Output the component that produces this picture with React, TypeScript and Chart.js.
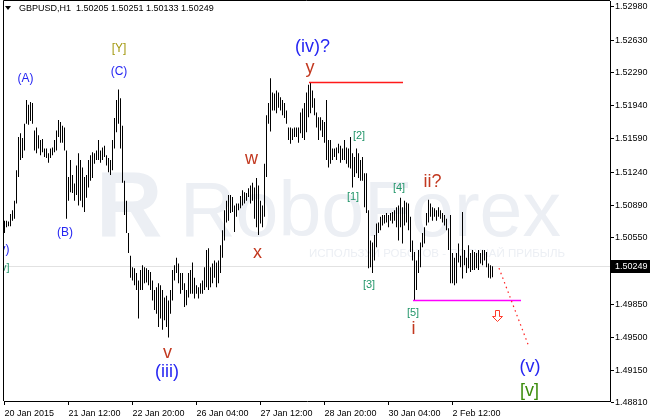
import React, { useEffect, useRef } from "react";
import { Chart, registerables } from "chart.js";

Chart.register(...registerables);

// ---------- data ----------
const symbolTitle = "GBPUSD,H1";
const lastBarOHLC = [1.50205, 1.50251, 1.50133, 1.50249];

const barHighs = [
  1.5073, 1.5073, 1.5072, 1.508, 1.5084, 1.5094, 1.5126, 1.5161, 1.5165, 1.516,
  1.5175, 1.52, 1.5195, 1.5198, 1.5197, 1.5168, 1.5171, 1.5163, 1.5158, 1.5159,
  1.5149, 1.5149, 1.5144, 1.5149, 1.515, 1.5158, 1.5168, 1.5179, 1.5177, 1.5173,
  1.5171, 1.5147, 1.5119, 1.5137, 1.5121, 1.5112, 1.5131, 1.5144, 1.5137, 1.5129,
  1.5119, 1.5121, 1.5137, 1.5142, 1.5145, 1.5144, 1.5147, 1.5158, 1.5147, 1.515,
  1.5152, 1.5142, 1.5139, 1.5137, 1.5158, 1.5181, 1.52, 1.5211, 1.5202, 1.5173,
  1.5115, 1.5094, 1.506, 1.5036, 1.5024, 1.5023, 1.5018, 1.501, 1.5021, 1.5026,
  1.5024, 1.5023, 1.5021, 1.5019, 1.501, 1.5, 1.5003, 1.5007, 1.5005, 1.5,
  1.4992, 1.4994, 1.4989, 1.5, 1.5021, 1.5026, 1.5034, 1.5028, 1.5018, 1.5018,
  1.5007, 1.5, 1.5018, 1.5021, 1.5029, 1.5013, 1.5005, 1.5003, 1.5007, 1.501,
  1.5024, 1.5042, 1.5044, 1.5024, 1.5028, 1.5031, 1.5029, 1.5031, 1.5047, 1.5063,
  1.5084, 1.5094, 1.51, 1.51, 1.5098, 1.5089, 1.5091, 1.5091, 1.5099, 1.5105,
  1.5103, 1.5102, 1.5107, 1.511, 1.5113, 1.5108, 1.5118, 1.511, 1.5094, 1.5089,
  1.5133, 1.5184, 1.5197, 1.5223, 1.5208, 1.5207, 1.521, 1.5208, 1.5203, 1.52,
  1.5197, 1.5189, 1.5171, 1.5171, 1.517, 1.5171, 1.5171, 1.5171, 1.5187, 1.5191,
  1.5197, 1.5208, 1.5216, 1.5219, 1.521, 1.5202, 1.5187, 1.5182, 1.5182, 1.5179,
  1.5177, 1.52, 1.5158, 1.5158, 1.5149, 1.5149, 1.515, 1.5154, 1.5152, 1.5149,
  1.5158, 1.515, 1.5149, 1.5161, 1.5144, 1.514, 1.5149, 1.5144, 1.5137, 1.514,
  1.5123, 1.5123, 1.5084, 1.5052, 1.505, 1.5058, 1.507, 1.5071, 1.5077, 1.5079,
  1.5079, 1.5081, 1.5079, 1.5081, 1.5082, 1.5084, 1.5087, 1.5089, 1.5097, 1.5087,
  1.5094, 1.5092, 1.5091, 1.5077, 1.5052, 1.504, 1.5031, 1.5042, 1.505, 1.506,
  1.5066, 1.5081, 1.5095, 1.5091, 1.5087, 1.5086, 1.5084, 1.5087, 1.5084, 1.5081,
  1.5079, 1.5075, 1.5065, 1.5079, 1.5039, 1.5034, 1.5039, 1.5049, 1.5036, 1.5082,
  1.5042, 1.5034, 1.5047, 1.5039, 1.5042, 1.504, 1.5039, 1.5042, 1.5039, 1.5042,
  1.5042, 1.504, 1.5028, 1.5026, 1.50251,
];

const barLows = [
  1.506, 1.5066, 1.5067, 1.5067, 1.5073, 1.5075, 1.5091, 1.5119, 1.5137, 1.5139,
  1.5147, 1.5175, 1.5174, 1.5178, 1.5175, 1.5147, 1.5144, 1.5149, 1.5142, 1.5145,
  1.514, 1.5139, 1.5134, 1.5139, 1.5142, 1.5145, 1.5147, 1.5161, 1.5155, 1.5155,
  1.5147, 1.5075, 1.5094, 1.5103, 1.5102, 1.5094, 1.51, 1.5089, 1.5094, 1.5087,
  1.5082, 1.5097, 1.5108, 1.5115, 1.5118, 1.5133, 1.5137, 1.5137, 1.5134, 1.5137,
  1.514, 1.5131, 1.5124, 1.5121, 1.5126, 1.5149, 1.5166, 1.5175, 1.5149, 1.5113,
  1.5079, 1.506, 1.5039, 1.5013, 1.501, 1.5005, 1.5, 1.497, 1.5, 1.5,
  1.5007, 1.5008, 1.5005, 1.5, 1.4989, 1.4979, 1.4975, 1.4961, 1.497, 1.4958,
  1.4968, 1.4961, 1.495, 1.4975, 1.4989, 1.501, 1.5018, 1.5007, 1.4996, 1.5,
  1.4982, 1.4984, 1.4992, 1.4996, 1.4996, 1.4991, 1.4996, 1.4991, 1.4996, 1.4996,
  1.5, 1.5003, 1.5, 1.5003, 1.5007, 1.5013, 1.5003, 1.5007, 1.5018, 1.5034,
  1.5052, 1.5071, 1.5073, 1.5081, 1.5082, 1.5061, 1.5077, 1.5084, 1.5086, 1.5089,
  1.5091, 1.5094, 1.5098, 1.5091, 1.5094, 1.5075, 1.5066, 1.5058, 1.507, 1.5066,
  1.5077, 1.5119, 1.5175, 1.5167, 1.5189, 1.5189, 1.5186, 1.5192, 1.5189, 1.5184,
  1.5181, 1.5175, 1.5158, 1.5154, 1.5158, 1.5161, 1.5161, 1.5155, 1.5165, 1.516,
  1.5158, 1.5166, 1.5182, 1.5186, 1.5192, 1.5184, 1.5171, 1.5158, 1.5168, 1.5161,
  1.5155, 1.5137, 1.5129, 1.5133, 1.5137, 1.514, 1.5137, 1.5144, 1.5134, 1.5137,
  1.5137, 1.5133, 1.5129, 1.5128, 1.5108, 1.5119, 1.5123, 1.5118, 1.5115, 1.5115,
  1.5087, 1.5081, 1.5023, 1.5024, 1.5018, 1.5031, 1.5045, 1.506, 1.5063, 1.5068,
  1.507, 1.5071, 1.5066, 1.5073, 1.507, 1.5073, 1.5066, 1.5052, 1.5066, 1.5049,
  1.5068, 1.5071, 1.5063, 1.504, 1.5031, 1.4989, 1.5, 1.5018, 1.5024, 1.5045,
  1.5049, 1.5068, 1.5071, 1.5077, 1.5073, 1.5077, 1.5073, 1.5077, 1.5075, 1.5071,
  1.5068, 1.5063, 1.5042, 1.5007, 1.5007, 1.5005, 1.5007, 1.5029, 1.5024, 1.5012,
  1.5026, 1.5018, 1.5023, 1.5019, 1.5021, 1.5021, 1.5023, 1.5021, 1.5028, 1.5026,
  1.5031, 1.5024, 1.5013, 1.5012, 1.50133,
];

const xTickIndex = [0, 32, 64, 96, 128, 160, 192, 224];
const xTickLabels = [
  "20 Jan 2015", "21 Jan 12:00", "22 Jan 20:00", "26 Jan 04:00",
  "27 Jan 12:00", "28 Jan 20:00", "30 Jan 04:00", "2 Feb 12:00",
];
const yTickValues = [
  1.5298, 1.5263, 1.5229, 1.5194, 1.5159, 1.5124, 1.5089,
  1.5055, 1.502, 1.4985, 1.495, 1.4915, 1.4881,
];
const yRange = [1.48831, 1.53043];
const xRange = [-0.25, 302.75];

// annotation objects (bar index, price)
const resistanceLine = [152.25, 199.25, 1.5219];
const supportLine = [204.25, 258.25, 1.4989];
const forecastFrom = [247.25, 1.5023];
const forecastTo = [262.25, 1.494];
const sellArrow = [246.25, 1.4973];

const waveText = ["(A)", "(B)", "(C)", "[Y]", "(iv)?", "y", "w", "x", "v", "(iii)", "ii?", "i", "(v)", "[v]", "[1]", "[2]", "[3]", "[4]", "[5]"];
const waveIndex = [10.5, 30.25, 57.25, 57.25, 154, 152.75, 123.5, 126.5, 81.5, 81.25, 214, 204.5, 262.75, 262.5, 174.25, 177.25, 182.25, 197.25, 204.25];
const wavePrice = [1.5222, 1.506, 1.523, 1.5254, 1.5256, 1.5234, 1.5138, 1.5039, 1.4934, 1.4914, 1.5114, 1.4959, 1.4919, 1.4894, 1.5098, 1.5162, 1.5005, 1.5107, 1.4976];
const waveKind = ["blueS", "blueS", "blueS", "olive", "blueL", "red", "red", "red", "red", "blueL", "red", "red", "blueL", "green", "teal", "teal", "teal", "teal", "teal"];
// labels cut off at the left edge
const edgeText = ["(v)", "[v]"];
const edgeIndex = [2.5, 2.5];
const edgePrice = [1.5042, 1.5023];
const edgeKind = ["blueS", "teal"];

// ---------- styles ----------
const labelStyle: Record<string, { color: string; size: number }> = {
  blueS: { color: "#2626f2", size: 12 },
  blueL: { color: "#2626f2", size: 18 },
  red: { color: "#c2381f", size: 18 },
  teal: { color: "#23966a", size: 11 },
  olive: { color: "#a49a12", size: 12 },
  green: { color: "#3b8c0c", size: 18 },
};

function narrowAvailable(): boolean {
  const c = document.createElement("canvas").getContext("2d");
  if (!c) return false;
  c.font = "20px 'Liberation Sans Narrow', monospace";
  const a = c.measureText("1.52980 Jan GBPUSD").width;
  c.font = "20px monospace";
  const b = c.measureText("1.52980 Jan GBPUSD").width;
  return Math.abs(a - b) > 0.5;
}

export default function App() {
  const ref = useRef<HTMLCanvasElement | null>(null);

  useEffect(() => {
    document.body.style.margin = "0";
    const canvas = ref.current;
    if (!canvas) return;
    const narrow = narrowAvailable();
    const axisFamily = narrow ? "'Liberation Sans Narrow'" : "'Liberation Sans'";
    const axisSize = narrow ? 11 : 9;
    const axisFont = `${axisSize}px ${axisFamily}`;
    const lastClose = lastBarOHLC[3];

    const overlay = {
      id: "overlay",
      beforeDatasetsDraw(chart: any) {
        const { ctx, chartArea: a, scales } = chart;
        const y = scales.y;
        ctx.save();
        ctx.beginPath();
        ctx.rect(a.left, a.top, a.right - a.left, a.bottom - a.top);
        ctx.clip();
        // watermark
        ctx.fillStyle = "#eceff4";
        ctx.textBaseline = "alphabetic";
        ctx.textAlign = "left";
        ctx.font = "bold 92px 'Liberation Sans'";
        ctx.fillText("R", 96, 236);
        ctx.font = "77px 'Liberation Sans'";
        ctx.fillText("RoboForex", 180, 236);
        ctx.font = "11.5px 'Liberation Sans'";
        ctx.textAlign = "right";
        ctx.fillText("ИСПОЛЬЗУЙ РОБОТОВ - ПОЛУЧАЙ ПРИБЫЛЬ", 565, 257);
        // current price line
        const yp = Math.round(y.getPixelForValue(lastClose)) + 0.5;
        ctx.strokeStyle = "#e2e2e2";
        ctx.lineWidth = 1;
        ctx.beginPath();
        ctx.moveTo(a.left, yp);
        ctx.lineTo(a.right, yp);
        ctx.stroke();
        ctx.restore();
      },
      afterDatasetsDraw(chart: any) {
        const { ctx, chartArea: a, scales } = chart;
        const x = scales.x;
        const y = scales.y;
        ctx.save();
        ctx.beginPath();
        ctx.rect(a.left, a.top, a.right - a.left, a.bottom - a.top);
        ctx.clip();
        // resistance line
        let yy = Math.round(y.getPixelForValue(resistanceLine[2])) + 0.5;
        ctx.strokeStyle = "#ff1a1a";
        ctx.lineWidth = 1.3;
        ctx.beginPath();
        ctx.moveTo(x.getPixelForValue(resistanceLine[0]), yy);
        ctx.lineTo(x.getPixelForValue(resistanceLine[1]), yy);
        ctx.stroke();
        // support line
        yy = Math.round(y.getPixelForValue(supportLine[2])) + 0.5;
        ctx.strokeStyle = "#ff00ff";
        ctx.beginPath();
        ctx.moveTo(x.getPixelForValue(supportLine[0]), yy);
        ctx.lineTo(x.getPixelForValue(supportLine[1]), yy);
        ctx.stroke();
        // forecast dotted line
        ctx.strokeStyle = "#ff2020";
        ctx.lineWidth = 1.2;
        ctx.setLineDash([1.5, 3.5]);
        ctx.beginPath();
        ctx.moveTo(x.getPixelForValue(forecastFrom[0]), y.getPixelForValue(forecastFrom[1]));
        ctx.lineTo(x.getPixelForValue(forecastTo[0]), y.getPixelForValue(forecastTo[1]));
        ctx.stroke();
        ctx.setLineDash([]);
        // hollow down arrow
        const ax = Math.round(x.getPixelForValue(sellArrow[0])) + 0.5;
        const ay = Math.round(y.getPixelForValue(sellArrow[1])) + 0.5;
        ctx.strokeStyle = "#ff3a2a";
        ctx.fillStyle = "#ffffff";
        ctx.lineWidth = 1;
        ctx.beginPath();
        ctx.moveTo(ax - 2, ay - 6);
        ctx.lineTo(ax + 2, ay - 6);
        ctx.lineTo(ax + 2, ay);
        ctx.lineTo(ax + 5, ay);
        ctx.lineTo(ax, ay + 5);
        ctx.lineTo(ax - 5, ay);
        ctx.lineTo(ax - 2, ay);
        ctx.closePath();
        ctx.fill();
        ctx.stroke();
        // wave labels
        ctx.textBaseline = "middle";
        ctx.textAlign = "center";
        waveText.forEach((t, i) => {
          const st = labelStyle[waveKind[i]];
          ctx.fillStyle = st.color;
          ctx.font = `${st.size}px 'Liberation Sans'`;
          ctx.fillText(t, x.getPixelForValue(waveIndex[i]), y.getPixelForValue(wavePrice[i]));
        });
        ctx.textAlign = "right";
        edgeText.forEach((t, i) => {
          const st = labelStyle[edgeKind[i]];
          ctx.fillStyle = st.color;
          ctx.font = `${st.size}px 'Liberation Sans'`;
          ctx.fillText(t, x.getPixelForValue(edgeIndex[i]), y.getPixelForValue(edgePrice[i]));
        });
        ctx.restore();
      },
      afterDraw(chart: any) {
        const { ctx, chartArea: a, scales, width } = chart;
        const y = scales.y;
        ctx.save();
        // frame (left & top)
        ctx.strokeStyle = "#000";
        ctx.lineWidth = 1;
        ctx.beginPath();
        ctx.moveTo(a.left - 0.5, a.bottom);
        ctx.lineTo(a.left - 0.5, a.top - 0.5);
        ctx.lineTo(a.right, a.top - 0.5);
        ctx.stroke();
        // header
        ctx.fillStyle = "#000";
        ctx.beginPath();
        ctx.moveTo(5, 6);
        ctx.lineTo(11, 6);
        ctx.lineTo(8, 10);
        ctx.closePath();
        ctx.fill();
        ctx.font = axisFont;
        ctx.textBaseline = "middle";
        ctx.textAlign = "left";
        ctx.fillText(
          `${symbolTitle}  ${lastBarOHLC.map((v) => v.toFixed(5)).join(" ")}`,
          19,
          9
        );
        // current price box
        const yp = Math.round(y.getPixelForValue(lastClose));
        ctx.fillStyle = "#000";
        ctx.fillRect(a.right + 1, yp - 6, width - a.right - 1, 13);
        ctx.fillStyle = "#fff";
        ctx.fillText(lastClose.toFixed(5), a.right + 5, yp + 0.5);
        ctx.restore();
      },
    };

    const chart = new Chart(canvas, {
      type: "bar",
      data: {
        datasets: [
          {
            data: barHighs.map((h, i) => ({ x: i, y: [barLows[i], h] })) as any,
            backgroundColor: "#000",
            borderWidth: 0,
            barThickness: 1,
            inflateAmount: 0,
            grouped: false,
          } as any,
        ],
      },
      options: {
        animation: false,
        responsive: false,
        events: [],
        layout: { padding: { left: 4, top: 1, right: 0, bottom: 0 } },
        plugins: {
          legend: { display: false },
          tooltip: { enabled: false },
          title: { display: false },
        },
        scales: {
          x: {
            type: "linear",
            min: xRange[0],
            max: xRange[1],
            offset: false,
            bounds: "data",
            grid: {
              display: true,
              drawOnChartArea: false,
              drawTicks: true,
              tickLength: 4,
              tickColor: "#000",
              offset: false,
            },
            border: { display: true, color: "#000", width: 1 },
            afterBuildTicks: (s: any) => {
              s.ticks = xTickIndex.map((v) => ({ value: v }));
            },
            afterFit: (s: any) => {
              s.height = 19;
              s.paddingLeft = 0;
              s.paddingRight = 0;
            },
            ticks: {
              autoSkip: false,
              maxRotation: 0,
              minRotation: 0,
              align: "start",
              padding: 3,
              color: "#000",
              font: { family: axisFamily, size: axisSize },
              callback: (v: any) => {
                const k = xTickIndex.indexOf(Number(v));
                return k >= 0 ? xTickLabels[k] : "";
              },
            },
          } as any,
          y: {
            type: "linear",
            position: "right",
            min: yRange[0],
            max: yRange[1],
            bounds: "data",
            grid: {
              display: true,
              drawOnChartArea: false,
              drawTicks: true,
              tickLength: 4,
              tickColor: "#000",
            },
            border: { display: true, color: "#000", width: 1 },
            afterBuildTicks: (s: any) => {
              s.ticks = yTickValues.map((v) => ({ value: v }));
            },
            afterFit: (s: any) => {
              s.width = 40;
              s.paddingTop = 0;
              s.paddingBottom = 0;
            },
            ticks: {
              autoSkip: false,
              padding: 1,
              color: "#000",
              font: { family: axisFamily, size: axisSize },
              callback: (v: any) => Number(v).toFixed(5),
            },
          } as any,
        },
      },
      plugins: [overlay],
    });
    return () => chart.destroy();
  }, []);

  return (
    <div style={{ position: "absolute", left: 0, top: 0, width: 650, height: 420, background: "#fff" }}>
      <canvas ref={ref} width={650} height={420} style={{ width: 650, height: 420, display: "block" }} />
    </div>
  );
}
